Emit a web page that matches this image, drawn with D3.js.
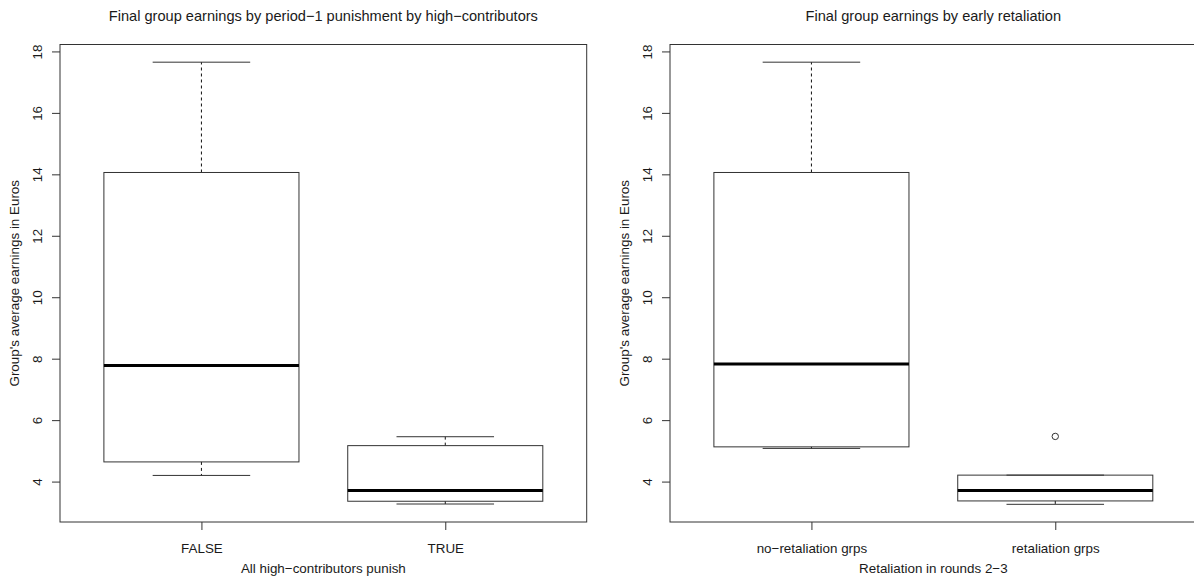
<!DOCTYPE html>
<html>
<head>
<meta charset="utf-8">
<script src="https://cdn.jsdelivr.net/npm/d3@7"></script>
<style>
  body { margin: 0; background: #fff; }
  svg { display: block; }
  text { font-family: "Liberation Sans", Arial, Helvetica, sans-serif; fill: #1a1a1a; }
</style>
</head>
<body>
<div id="chart"></div>
<script>
// Chart text
var titles = ["Final group earnings by period\u22121 punishment by high\u2212contributors",
              "Final group earnings by early retaliation"];
var xTitles = ["All high\u2212contributors punish", "Retaliation in rounds 2\u22123"];
var yTitle = "Group's average earnings in Euros";

// Categories per panel
var punishGroups = ["FALSE", "TRUE"];
var retalGroups = ["no\u2212retaliation grps", "retaliation grps"];

// Box stats: lower whisker, Q1, median, Q3, upper whisker
var punishStats = [[4.20, 4.64, 7.78, 14.06, 17.65],
                   [3.27, 3.36, 3.71, 5.17, 5.46]];
var retalStats = [[5.08, 5.13, 7.83, 14.06, 17.65],
                  [3.26, 3.37, 3.71, 4.21, 4.21]];

// Outlying points
var punishOutliers = [[], []];
var retalOutliers = [[], [5.47]];

var yTicks = [4, 6, 8, 10, 12, 14, 16, 18];

// Layout
var basewidth = 1194,
    baseheight = 579,
    panelOffset = 610,
    plot = { left: 60, top: 44.5, width: 526.7, height: 477.5 },
    lineCol = "#333",
    tickLen = 8,
    axisFont = "13.4px",
    titleFont = "14.6px";

var svg = d3.select("#chart").append("svg")
    .attr("width", basewidth)
    .attr("height", baseheight);

// y domain like R: data range padded 4% each side
var allVals = d3.merge(punishStats.concat(retalStats, punishOutliers, retalOutliers));
var yMin = d3.min(allVals), yMax = d3.max(allVals), yPad = (yMax - yMin) * 0.04;

drawPanel(0, titles[0], xTitles[0], punishGroups, punishStats, punishOutliers);
drawPanel(1, titles[1], xTitles[1], retalGroups, retalStats, retalOutliers);

// Function which draws one boxplot panel
function drawPanel(idx, title, xTitle, groups, stats, outliers) {
    var g = svg.append("g")
        .attr("transform", "translate(" + (plot.left + idx * panelOffset) + "," + plot.top + ")");

    var n = groups.length,
        xPad = n * 0.04;
    var x = d3.scaleLinear().domain([0.5 - xPad, n + 0.5 + xPad]).range([0, plot.width]);
    var y = d3.scaleLinear().domain([yMin - yPad, yMax + yPad]).range([plot.height, 0]);
    var boxW = x(1.4) - x(0.6),   // R default box width 0.8
        capW = boxW / 2;

    // y axis
    var yAxis = g.append("g")
        .call(d3.axisLeft(y).tickValues(yTicks).tickSize(tickLen).tickFormat(d3.format("d")));
    yAxis.select(".domain").remove();
    yAxis.selectAll("line").attr("stroke", lineCol);
    yAxis.selectAll("text")
        .attr("transform", "rotate(-90)")
        .attr("text-anchor", "middle")
        .attr("x", 0)
        .attr("y", -18)
        .attr("dy", 0)
        .style("font-size", axisFont)
        .style("font-family", null);

    // x axis
    var xAxis = g.append("g")
        .attr("transform", "translate(0," + plot.height + ")")
        .call(d3.axisBottom(x).tickValues(d3.range(1, n + 1)).tickSize(tickLen)
            .tickFormat(function (d) { return groups[d - 1]; }));
    xAxis.select(".domain").remove();
    xAxis.selectAll("line").attr("stroke", lineCol);
    xAxis.selectAll("text")
        .attr("y", 31)
        .attr("dy", 0)
        .style("font-size", axisFont)
        .style("font-family", null);

    // frame
    g.append("rect")
        .attr("width", plot.width)
        .attr("height", plot.height)
        .attr("fill", "none")
        .attr("stroke", lineCol);

    var boxes = g.selectAll(".box")
        .data(stats)
        .enter().append("g")
        .attr("class", "box")
        .attr("transform", function (d, i) { return "translate(" + x(i + 1) + ",0)"; });

    // whiskers (dashed)
    boxes.append("line")
        .attr("y1", function (d) { return y(d[3]); })
        .attr("y2", function (d) { return y(d[4]); })
        .attr("stroke", "#111")
        .attr("stroke-dasharray", "3,3");
    boxes.append("line")
        .attr("y1", function (d) { return y(d[1]); })
        .attr("y2", function (d) { return y(d[0]); })
        .attr("stroke", "#111")
        .attr("stroke-dasharray", "3,3");

    // staples
    boxes.selectAll(".cap")
        .data(function (d) { return [d[0], d[4]]; })
        .enter().append("line")
        .attr("class", "cap")
        .attr("x1", -capW / 2)
        .attr("x2", capW / 2)
        .attr("y1", function (v) { return y(v); })
        .attr("y2", function (v) { return y(v); })
        .attr("stroke", lineCol);

    // box
    boxes.append("rect")
        .attr("x", -boxW / 2)
        .attr("width", boxW)
        .attr("y", function (d) { return y(d[3]); })
        .attr("height", function (d) { return y(d[1]) - y(d[3]); })
        .attr("fill", "none")
        .attr("stroke", lineCol);

    // median
    boxes.append("line")
        .attr("x1", -boxW / 2)
        .attr("x2", boxW / 2)
        .attr("y1", function (d) { return y(d[2]); })
        .attr("y2", function (d) { return y(d[2]); })
        .attr("stroke", "#000")
        .attr("stroke-width", 3);

    // outliers
    outliers.forEach(function (pts, i) {
        g.selectAll(null)
            .data(pts)
            .enter().append("circle")
            .attr("cx", x(i + 1))
            .attr("cy", function (v) { return y(v); })
            .attr("r", 3.2)
            .attr("fill", "none")
            .attr("stroke", lineCol);
    });

    // titles
    g.append("text")
        .attr("x", plot.width / 2)
        .attr("y", -24)
        .attr("text-anchor", "middle")
        .style("font-size", titleFont)
        .text(title);

    g.append("text")
        .attr("x", plot.width / 2)
        .attr("y", plot.height + 50.5)
        .attr("text-anchor", "middle")
        .style("font-size", axisFont)
        .text(xTitle);

    g.append("text")
        .attr("transform", "rotate(-90)")
        .attr("x", -plot.height / 2)
        .attr("y", -41)
        .attr("text-anchor", "middle")
        .style("font-size", axisFont)
        .text(yTitle);
}
</script>
</body>
</html>
